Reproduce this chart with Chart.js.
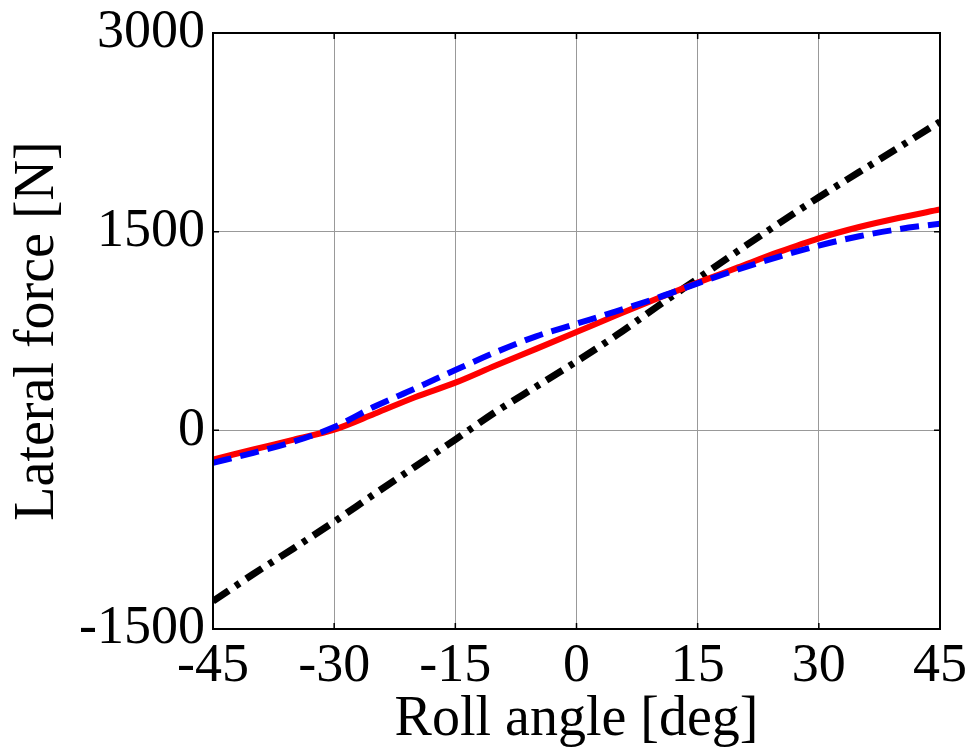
<!DOCTYPE html>
<html>
<head>
<meta charset="utf-8">
<script src="https://cdn.jsdelivr.net/npm/chart.js@4/dist/chart.umd.min.js"></script>
<style>
  html, body { margin: 0; padding: 0; background: #ffffff; }
  #c { display: block; }
</style>
</head>
<body>
<canvas id="c" width="973" height="753"></canvas>
<script>
// Roll angle [deg]
const rollAngles = [-45, -40, -35, -30, -25, -20, -15, -10, -5, 0, 5, 10, 15, 20, 25, 30, 35, 40, 45];
// Lateral force [N] series
const redSolid = [-220, -145, -70, 5, 125, 250, 360, 490, 615, 742, 870, 995, 1115, 1230, 1345, 1450, 1535, 1605, 1667];
const blueDashed = [-245, -170, -85, 25, 180, 315, 455, 590, 710, 805, 900, 1000, 1110, 1215, 1310, 1395, 1465, 1520, 1560];
const blackDashDot = [-1290, -1085, -890, -690, -480, -275, -70, 140, 330, 520, 720, 935, 1145, 1355, 1560, 1760, 1950, 2140, 2330];
// Tick labels
const xTicks = [-45, -30, -15, 0, 15, 30, 45];
const yTicks = [-1500, 0, 1500, 3000];

const toPts = (ys) => rollAngles.map((x, i) => ({ x: x, y: ys[i] }));

const FONT = 'Liberation Serif, Times New Roman, serif';

const boxPlugin = {
  id: 'box',
  afterDraw(chart) {
    const { ctx, chartArea: a, scales } = chart;
    ctx.save();
    ctx.strokeStyle = '#000';
    ctx.lineWidth = 2;
    ctx.strokeRect(a.left, a.top, a.right - a.left, a.bottom - a.top);
    ctx.lineWidth = 1.5;
    const tl = 6;
    ctx.beginPath();
    xTicks.forEach(v => {
      const px = scales.x.getPixelForValue(v);
      ctx.moveTo(px, a.bottom); ctx.lineTo(px, a.bottom - tl);
      ctx.moveTo(px, a.top); ctx.lineTo(px, a.top + tl);
    });
    yTicks.forEach(v => {
      const py = scales.y.getPixelForValue(v);
      ctx.moveTo(a.left, py); ctx.lineTo(a.left + tl, py);
      ctx.moveTo(a.right, py); ctx.lineTo(a.right - tl, py);
    });
    ctx.stroke();
    ctx.restore();
  }
};

new Chart(document.getElementById('c'), {
  type: 'line',
  data: {
    datasets: [
      { label: 'red', data: toPts(redSolid), borderColor: '#ff0000', borderWidth: 6, pointRadius: 0, cubicInterpolationMode: 'monotone', order: 1, borderCapStyle: 'butt' },
      { label: 'blue', data: toPts(blueDashed), borderColor: '#0000ff', borderWidth: 6, pointRadius: 0, cubicInterpolationMode: 'monotone', borderDash: [19, 9], order: 0, borderCapStyle: 'butt' },
      { label: 'black', data: toPts(blackDashDot), borderColor: '#000000', borderWidth: 7, pointRadius: 0, cubicInterpolationMode: 'monotone', borderDash: [19, 8, 5, 8], order: 2, borderCapStyle: 'butt' }
    ]
  },
  options: {
    responsive: false,
    animation: false,
    layout: { padding: { top: 33, right: 33, left: 0, bottom: 0 } },
    plugins: { legend: { display: false }, tooltip: { enabled: false } },
    scales: {
      x: {
        type: 'linear', min: -45, max: 45,
        afterBuildTicks: (s) => { s.ticks = xTicks.map(v => ({ value: v })); },
        afterFit: (s) => { s.height = 124; s.paddingLeft = 0; s.paddingRight = 0; },
        ticks: { color: '#000', font: { family: FONT, size: 54, lineHeight: 1 }, padding: 11, maxRotation: 0, autoSkip: false, callback: (v) => String(v) },
        grid: { color: '#999999', lineWidth: 1, drawTicks: false },
        border: { display: false },
        title: { display: true, text: 'Roll angle [deg]', color: '#000', font: { family: FONT, size: 56, lineHeight: 1 }, padding: { top: 0, bottom: 5 } }
      },
      y: {
        type: 'linear', min: -1500, max: 3000,
        afterBuildTicks: (s) => { s.ticks = yTicks.map(v => ({ value: v })); },
        afterFit: (s) => { s.width = 213; s.paddingTop = 0; s.paddingBottom = 0; },
        ticks: { color: '#000', font: { family: FONT, size: 54, lineHeight: 1 }, padding: 8, autoSkip: false, callback: (v) => String(v) },
        grid: { color: '#999999', lineWidth: 1, drawTicks: false },
        border: { display: false },
        title: { display: true, text: 'Lateral force [N]', color: '#000', font: { family: FONT, size: 56, lineHeight: 1 }, padding: { top: 10, bottom: 0 } }
      }
    }
  },
  plugins: [boxPlugin]
});
</script>
</body>
</html>
